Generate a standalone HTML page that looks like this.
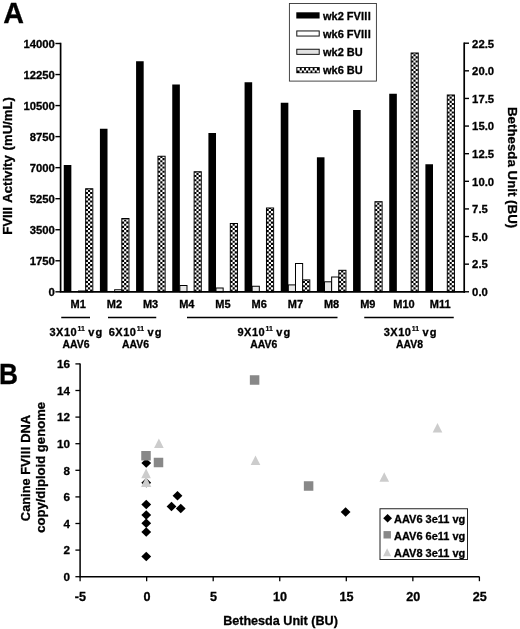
<!DOCTYPE html><html><head><meta charset="utf-8"><style>html,body{margin:0;padding:0;background:#fff}svg{display:block;will-change:transform}text{font-family:"Liberation Sans",sans-serif;font-weight:bold;fill:#000;stroke:#000;stroke-width:0.3px}</style></head><body>
<svg width="520" height="629" viewBox="0 0 520 629">
<defs>
<pattern id="chk" width="2" height="2" patternUnits="userSpaceOnUse"><rect width="2" height="2" fill="#fff"/><rect x="0" y="0" width="1" height="1" fill="#000"/><rect x="1" y="1" width="1" height="1" fill="#000"/></pattern>
</defs>
<rect width="520" height="629" fill="#fff"/>
<text x="3.2" y="23.1" font-size="28.7">A</text>
<rect x="63.75" y="165.00" width="7.6" height="126.80" fill="#000"/>
<rect x="78.50" y="291.00" width="7.15" height="0.80" fill="#fff" stroke="#000" stroke-width="1"/>
<rect x="85.65" y="188.75" width="7.15" height="103.05" fill="#fff"/>
<path d="M86.88 291.58V188.75" stroke="#000" stroke-width="2.15" stroke-dasharray="2.12 2.12" stroke-dashoffset="0" fill="none"/>
<path d="M89.03 291.58V188.75" stroke="#000" stroke-width="2.15" stroke-dasharray="2.12 2.12" stroke-dashoffset="2.12" fill="none"/>
<path d="M91.18 291.58V188.75" stroke="#000" stroke-width="2.15" stroke-dasharray="2.12 2.12" stroke-dashoffset="0" fill="none"/>
<rect x="85.65" y="188.75" width="7.15" height="103.05" fill="none" stroke="#000" stroke-width="1"/>
<rect x="99.91" y="128.75" width="7.6" height="163.05" fill="#000"/>
<rect x="114.66" y="289.75" width="7.15" height="2.05" fill="#fff" stroke="#000" stroke-width="1"/>
<rect x="121.81" y="218.50" width="7.15" height="73.30" fill="#fff"/>
<path d="M123.04 291.58V218.50" stroke="#000" stroke-width="2.15" stroke-dasharray="2.12 2.12" stroke-dashoffset="0" fill="none"/>
<path d="M125.19 291.58V218.50" stroke="#000" stroke-width="2.15" stroke-dasharray="2.12 2.12" stroke-dashoffset="2.12" fill="none"/>
<path d="M127.34 291.58V218.50" stroke="#000" stroke-width="2.15" stroke-dasharray="2.12 2.12" stroke-dashoffset="0" fill="none"/>
<rect x="121.81" y="218.50" width="7.15" height="73.30" fill="none" stroke="#000" stroke-width="1"/>
<rect x="136.08" y="61.25" width="7.6" height="230.55" fill="#000"/>
<rect x="157.98" y="156.25" width="7.15" height="135.55" fill="#fff"/>
<path d="M159.20 291.58V156.25" stroke="#000" stroke-width="2.15" stroke-dasharray="2.12 2.12" stroke-dashoffset="0" fill="none"/>
<path d="M161.35 291.58V156.25" stroke="#000" stroke-width="2.15" stroke-dasharray="2.12 2.12" stroke-dashoffset="2.12" fill="none"/>
<path d="M163.50 291.58V156.25" stroke="#000" stroke-width="2.15" stroke-dasharray="2.12 2.12" stroke-dashoffset="0" fill="none"/>
<rect x="157.98" y="156.25" width="7.15" height="135.55" fill="none" stroke="#000" stroke-width="1"/>
<rect x="172.25" y="84.50" width="7.6" height="207.30" fill="#000"/>
<rect x="179.84" y="285.50" width="7.15" height="6.30" fill="#e8e8e8" stroke="#000" stroke-width="1"/>
<rect x="194.14" y="171.75" width="7.15" height="120.05" fill="#fff"/>
<path d="M195.37 291.58V171.75" stroke="#000" stroke-width="2.15" stroke-dasharray="2.12 2.12" stroke-dashoffset="0" fill="none"/>
<path d="M197.52 291.58V171.75" stroke="#000" stroke-width="2.15" stroke-dasharray="2.12 2.12" stroke-dashoffset="2.12" fill="none"/>
<path d="M199.67 291.58V171.75" stroke="#000" stroke-width="2.15" stroke-dasharray="2.12 2.12" stroke-dashoffset="0" fill="none"/>
<rect x="194.14" y="171.75" width="7.15" height="120.05" fill="none" stroke="#000" stroke-width="1"/>
<rect x="208.41" y="133.00" width="7.6" height="158.80" fill="#000"/>
<rect x="216.01" y="288.00" width="7.15" height="3.80" fill="#e8e8e8" stroke="#000" stroke-width="1"/>
<rect x="230.31" y="223.50" width="7.15" height="68.30" fill="#fff"/>
<path d="M231.53 291.58V223.50" stroke="#000" stroke-width="2.15" stroke-dasharray="2.12 2.12" stroke-dashoffset="0" fill="none"/>
<path d="M233.69 291.58V223.50" stroke="#000" stroke-width="2.15" stroke-dasharray="2.12 2.12" stroke-dashoffset="2.12" fill="none"/>
<path d="M235.84 291.58V223.50" stroke="#000" stroke-width="2.15" stroke-dasharray="2.12 2.12" stroke-dashoffset="0" fill="none"/>
<rect x="230.31" y="223.50" width="7.15" height="68.30" fill="none" stroke="#000" stroke-width="1"/>
<rect x="244.57" y="82.25" width="7.6" height="209.55" fill="#000"/>
<rect x="252.17" y="286.25" width="7.15" height="5.55" fill="#e8e8e8" stroke="#000" stroke-width="1"/>
<rect x="266.47" y="208.00" width="7.15" height="83.80" fill="#fff"/>
<path d="M267.70 291.58V208.00" stroke="#000" stroke-width="2.15" stroke-dasharray="2.12 2.12" stroke-dashoffset="0" fill="none"/>
<path d="M269.85 291.58V208.00" stroke="#000" stroke-width="2.15" stroke-dasharray="2.12 2.12" stroke-dashoffset="2.12" fill="none"/>
<path d="M272.00 291.58V208.00" stroke="#000" stroke-width="2.15" stroke-dasharray="2.12 2.12" stroke-dashoffset="0" fill="none"/>
<rect x="266.47" y="208.00" width="7.15" height="83.80" fill="none" stroke="#000" stroke-width="1"/>
<rect x="280.74" y="102.75" width="7.6" height="189.05" fill="#000"/>
<rect x="288.34" y="284.90" width="7.15" height="6.90" fill="#e8e8e8" stroke="#000" stroke-width="1"/>
<rect x="295.49" y="263.50" width="7.15" height="28.30" fill="#fff" stroke="#000" stroke-width="1"/>
<rect x="302.64" y="279.90" width="7.15" height="11.90" fill="#fff"/>
<path d="M303.86 291.58V279.90" stroke="#000" stroke-width="2.15" stroke-dasharray="2.12 2.12" stroke-dashoffset="0" fill="none"/>
<path d="M306.01 291.58V279.90" stroke="#000" stroke-width="2.15" stroke-dasharray="2.12 2.12" stroke-dashoffset="2.12" fill="none"/>
<path d="M308.16 291.58V279.90" stroke="#000" stroke-width="2.15" stroke-dasharray="2.12 2.12" stroke-dashoffset="0" fill="none"/>
<rect x="302.64" y="279.90" width="7.15" height="11.90" fill="none" stroke="#000" stroke-width="1"/>
<rect x="316.90" y="157.30" width="7.6" height="134.50" fill="#000"/>
<rect x="324.50" y="281.80" width="7.15" height="10.00" fill="#e8e8e8" stroke="#000" stroke-width="1"/>
<rect x="331.65" y="277.00" width="7.15" height="14.80" fill="#fff" stroke="#000" stroke-width="1"/>
<rect x="338.80" y="270.30" width="7.15" height="21.50" fill="#fff"/>
<path d="M340.03 291.58V270.30" stroke="#000" stroke-width="2.15" stroke-dasharray="2.12 2.12" stroke-dashoffset="0" fill="none"/>
<path d="M342.18 291.58V270.30" stroke="#000" stroke-width="2.15" stroke-dasharray="2.12 2.12" stroke-dashoffset="2.12" fill="none"/>
<path d="M344.33 291.58V270.30" stroke="#000" stroke-width="2.15" stroke-dasharray="2.12 2.12" stroke-dashoffset="0" fill="none"/>
<rect x="338.80" y="270.30" width="7.15" height="21.50" fill="none" stroke="#000" stroke-width="1"/>
<rect x="353.07" y="110.00" width="7.6" height="181.80" fill="#000"/>
<rect x="374.97" y="201.70" width="7.15" height="90.10" fill="#fff"/>
<path d="M376.19 291.58V201.70" stroke="#000" stroke-width="2.15" stroke-dasharray="2.12 2.12" stroke-dashoffset="0" fill="none"/>
<path d="M378.34 291.58V201.70" stroke="#000" stroke-width="2.15" stroke-dasharray="2.12 2.12" stroke-dashoffset="2.12" fill="none"/>
<path d="M380.49 291.58V201.70" stroke="#000" stroke-width="2.15" stroke-dasharray="2.12 2.12" stroke-dashoffset="0" fill="none"/>
<rect x="374.97" y="201.70" width="7.15" height="90.10" fill="none" stroke="#000" stroke-width="1"/>
<rect x="389.24" y="93.75" width="7.6" height="198.05" fill="#000"/>
<rect x="411.13" y="53.00" width="7.15" height="238.80" fill="#fff"/>
<path d="M412.36 291.58V53.00" stroke="#000" stroke-width="2.15" stroke-dasharray="2.12 2.12" stroke-dashoffset="0" fill="none"/>
<path d="M414.51 291.58V53.00" stroke="#000" stroke-width="2.15" stroke-dasharray="2.12 2.12" stroke-dashoffset="2.12" fill="none"/>
<path d="M416.66 291.58V53.00" stroke="#000" stroke-width="2.15" stroke-dasharray="2.12 2.12" stroke-dashoffset="0" fill="none"/>
<rect x="411.13" y="53.00" width="7.15" height="238.80" fill="none" stroke="#000" stroke-width="1"/>
<rect x="425.40" y="164.25" width="7.6" height="127.55" fill="#000"/>
<rect x="447.30" y="95.00" width="7.15" height="196.80" fill="#fff"/>
<path d="M448.52 291.58V95.00" stroke="#000" stroke-width="2.15" stroke-dasharray="2.12 2.12" stroke-dashoffset="0" fill="none"/>
<path d="M450.67 291.58V95.00" stroke="#000" stroke-width="2.15" stroke-dasharray="2.12 2.12" stroke-dashoffset="2.12" fill="none"/>
<path d="M452.82 291.58V95.00" stroke="#000" stroke-width="2.15" stroke-dasharray="2.12 2.12" stroke-dashoffset="0" fill="none"/>
<rect x="447.30" y="95.00" width="7.15" height="196.80" fill="none" stroke="#000" stroke-width="1"/>
<path d="M60.6 42.8V291.8M59.75 291.8H465.05" stroke="#000" stroke-width="1.7" fill="none"/>
<path d="M464.2 42.5V292.65000000000003" stroke="#000" stroke-width="1.7" fill="none"/>
<path d="M55.4 43.50H60.6" stroke="#000" stroke-width="1.4"/>
<text x="54.9" y="47.50" font-size="11.3" text-anchor="end">14000</text>
<path d="M55.4 74.54H60.6" stroke="#000" stroke-width="1.4"/>
<text x="54.9" y="78.54" font-size="11.3" text-anchor="end">12250</text>
<path d="M55.4 105.58H60.6" stroke="#000" stroke-width="1.4"/>
<text x="54.9" y="109.58" font-size="11.3" text-anchor="end">10500</text>
<path d="M55.4 136.62H60.6" stroke="#000" stroke-width="1.4"/>
<text x="54.9" y="140.62" font-size="11.3" text-anchor="end">8750</text>
<path d="M55.4 167.66H60.6" stroke="#000" stroke-width="1.4"/>
<text x="54.9" y="171.66" font-size="11.3" text-anchor="end">7000</text>
<path d="M55.4 198.70H60.6" stroke="#000" stroke-width="1.4"/>
<text x="54.9" y="202.70" font-size="11.3" text-anchor="end">5250</text>
<path d="M55.4 229.74H60.6" stroke="#000" stroke-width="1.4"/>
<text x="54.9" y="233.74" font-size="11.3" text-anchor="end">3500</text>
<path d="M55.4 260.78H60.6" stroke="#000" stroke-width="1.4"/>
<text x="54.9" y="264.78" font-size="11.3" text-anchor="end">1750</text>
<path d="M55.4 291.82H60.6" stroke="#000" stroke-width="1.4"/>
<text x="54.9" y="295.82" font-size="11.3" text-anchor="end">0</text>
<path d="M464.2 43.20H469" stroke="#000" stroke-width="1.4"/>
<text x="472.1" y="47.50" font-size="11.3">22.5</text>
<path d="M464.2 70.82H469" stroke="#000" stroke-width="1.4"/>
<text x="472.1" y="75.12" font-size="11.3">20.0</text>
<path d="M464.2 98.44H469" stroke="#000" stroke-width="1.4"/>
<text x="472.1" y="102.74" font-size="11.3">17.5</text>
<path d="M464.2 126.06H469" stroke="#000" stroke-width="1.4"/>
<text x="472.1" y="130.36" font-size="11.3">15.0</text>
<path d="M464.2 153.68H469" stroke="#000" stroke-width="1.4"/>
<text x="472.1" y="157.98" font-size="11.3">12.5</text>
<path d="M464.2 181.30H469" stroke="#000" stroke-width="1.4"/>
<text x="472.1" y="185.60" font-size="11.3">10.0</text>
<path d="M464.2 208.92H469" stroke="#000" stroke-width="1.4"/>
<text x="472.1" y="213.22" font-size="11.3">7.5</text>
<path d="M464.2 236.54H469" stroke="#000" stroke-width="1.4"/>
<text x="472.1" y="240.84" font-size="11.3">5.0</text>
<path d="M464.2 264.16H469" stroke="#000" stroke-width="1.4"/>
<text x="472.1" y="268.46" font-size="11.3">2.5</text>
<path d="M464.2 291.78H469" stroke="#000" stroke-width="1.4"/>
<text x="472.1" y="296.08" font-size="11.3">0.0</text>
<text transform="translate(11.9,166) rotate(-90)" font-size="13.15" word-spacing="1.2" text-anchor="middle">FVIII Activity (mU/mL)</text>
<text transform="translate(507.5,167.6) rotate(90)" font-size="13.3" text-anchor="middle">Bethesda Unit (BU)</text>
<text x="78.20" y="308" font-size="11" text-anchor="middle">M1</text>
<text x="114.40" y="308" font-size="11" text-anchor="middle">M2</text>
<text x="150.60" y="308" font-size="11" text-anchor="middle">M3</text>
<text x="186.80" y="308" font-size="11" text-anchor="middle">M4</text>
<text x="223.00" y="308" font-size="11" text-anchor="middle">M5</text>
<text x="259.20" y="308" font-size="11" text-anchor="middle">M6</text>
<text x="295.40" y="308" font-size="11" text-anchor="middle">M7</text>
<text x="331.60" y="308" font-size="11" text-anchor="middle">M8</text>
<text x="367.80" y="308" font-size="11" text-anchor="middle">M9</text>
<text x="404.00" y="308" font-size="11" text-anchor="middle">M10</text>
<text x="440.20" y="308" font-size="11" text-anchor="middle">M11</text>
<path d="M61.25 317.6H90M108 317.6H156.25M187 317.6H337.5M364.25 317.6H453.75" stroke="#000" stroke-width="1.5"/>
<text x="49.5" y="335.6" font-size="11" textLength="27.2" lengthAdjust="spacing">3X10</text>
<text x="77.5" y="330.5" font-size="7.4" textLength="7.4" lengthAdjust="spacingAndGlyphs" style="stroke-width:0.2px">11</text>
<text x="88.2" y="335.6" font-size="11">v</text><text x="95.6" y="335.6" font-size="11">g</text>
<text x="76" y="348.3" font-size="11" text-anchor="middle" textLength="27" lengthAdjust="spacingAndGlyphs">AAV6</text>
<text x="108.75" y="335.6" font-size="11" textLength="27.2" lengthAdjust="spacing">6X10</text>
<text x="136.75" y="330.5" font-size="7.4" textLength="7.4" lengthAdjust="spacingAndGlyphs" style="stroke-width:0.2px">11</text>
<text x="147.45" y="335.6" font-size="11">v</text><text x="154.85" y="335.6" font-size="11">g</text>
<text x="135.5" y="348.3" font-size="11" text-anchor="middle" textLength="27" lengthAdjust="spacingAndGlyphs">AAV6</text>
<text x="237.5" y="335.6" font-size="11" textLength="27.2" lengthAdjust="spacing">9X10</text>
<text x="265.5" y="330.5" font-size="7.4" textLength="7.4" lengthAdjust="spacingAndGlyphs" style="stroke-width:0.2px">11</text>
<text x="276.2" y="335.6" font-size="11">v</text><text x="283.6" y="335.6" font-size="11">g</text>
<text x="263.75" y="348.3" font-size="11" text-anchor="middle" textLength="27" lengthAdjust="spacingAndGlyphs">AAV6</text>
<text x="383.75" y="335.6" font-size="11" textLength="27.2" lengthAdjust="spacing">3X10</text>
<text x="411.75" y="330.5" font-size="7.4" textLength="7.4" lengthAdjust="spacingAndGlyphs" style="stroke-width:0.2px">11</text>
<text x="422.45" y="335.6" font-size="11">v</text><text x="429.85" y="335.6" font-size="11">g</text>
<text x="409.6" y="348.3" font-size="11" text-anchor="middle" textLength="27" lengthAdjust="spacingAndGlyphs">AAV8</text>
<rect x="289.4" y="3.5" width="87" height="77.6" fill="#fff" stroke="#333" stroke-width="0.9"/>
<rect x="296.3" y="12.3" width="23.3" height="6.2" fill="#000"/>
<rect x="296.8" y="30.95" width="22.4" height="5.1" fill="#fff" stroke="#111" stroke-width="1"/>
<rect x="296.8" y="49.25" width="22.4" height="5.1" fill="#e2e2e2" stroke="#111" stroke-width="1"/>
<rect x="296.3" y="67.1" width="23.4" height="6.1" fill="#000"/>
<path d="M297.40 68.1h2.4v2.4h-2.4zM299.54 70.5h2.4v2.1h-2.4zM301.68 68.1h2.4v2.4h-2.4zM303.82 70.5h2.4v2.1h-2.4zM305.96 68.1h2.4v2.4h-2.4zM308.10 70.5h2.4v2.1h-2.4zM310.24 68.1h2.4v2.4h-2.4zM312.38 70.5h2.4v2.1h-2.4zM314.52 68.1h2.4v2.4h-2.4zM316.66 70.5h2.4v2.1h-2.4z" fill="#fff"/>
<text x="323" y="19.6" font-size="11">wk2 FV<tspan letter-spacing="0.4">III</tspan></text>
<text x="323" y="37.7" font-size="11">wk6 FV<tspan letter-spacing="0.4">III</tspan></text>
<text x="323" y="56.0" font-size="11">wk2 BU</text>
<text x="323" y="74.2" font-size="11">wk6 BU</text>
<text transform="translate(-0.9,383.7) scale(0.92,1)" font-size="28.6">B</text>
<path d="M80.1 363.4V576.7H479.5" stroke="#000" stroke-width="1.5" fill="none"/>
<path d="M75.4 576.70H80.1" stroke="#000" stroke-width="1.3"/>
<text x="69.9" y="580.90" font-size="11.7" text-anchor="end">0</text>
<path d="M75.4 550.10H80.1" stroke="#000" stroke-width="1.3"/>
<text x="69.9" y="554.30" font-size="11.7" text-anchor="end">2</text>
<path d="M75.4 523.50H80.1" stroke="#000" stroke-width="1.3"/>
<text x="69.9" y="527.70" font-size="11.7" text-anchor="end">4</text>
<path d="M75.4 496.90H80.1" stroke="#000" stroke-width="1.3"/>
<text x="69.9" y="501.10" font-size="11.7" text-anchor="end">6</text>
<path d="M75.4 470.30H80.1" stroke="#000" stroke-width="1.3"/>
<text x="69.9" y="474.50" font-size="11.7" text-anchor="end">8</text>
<path d="M75.4 443.70H80.1" stroke="#000" stroke-width="1.3"/>
<text x="69.9" y="447.90" font-size="11.7" text-anchor="end">10</text>
<path d="M75.4 417.10H80.1" stroke="#000" stroke-width="1.3"/>
<text x="69.9" y="421.30" font-size="11.7" text-anchor="end">12</text>
<path d="M75.4 390.50H80.1" stroke="#000" stroke-width="1.3"/>
<text x="69.9" y="394.70" font-size="11.7" text-anchor="end">14</text>
<path d="M75.4 363.90H80.1" stroke="#000" stroke-width="1.3"/>
<text x="69.9" y="368.10" font-size="11.7" text-anchor="end">16</text>
<path d="M80.10 576.7V581.2" stroke="#000" stroke-width="1.3"/>
<text x="80.40" y="601.3" font-size="12.6" text-anchor="middle">-5</text>
<path d="M146.65 576.7V581.2" stroke="#000" stroke-width="1.3"/>
<text x="146.95" y="601.3" font-size="12.6" text-anchor="middle">0</text>
<path d="M213.20 576.7V581.2" stroke="#000" stroke-width="1.3"/>
<text x="213.50" y="601.3" font-size="12.6" text-anchor="middle">5</text>
<path d="M279.75 576.7V581.2" stroke="#000" stroke-width="1.3"/>
<text x="280.05" y="601.3" font-size="12.6" text-anchor="middle">10</text>
<path d="M346.30 576.7V581.2" stroke="#000" stroke-width="1.3"/>
<text x="346.60" y="601.3" font-size="12.6" text-anchor="middle">15</text>
<path d="M412.85 576.7V581.2" stroke="#000" stroke-width="1.3"/>
<text x="413.15" y="601.3" font-size="12.6" text-anchor="middle">20</text>
<path d="M479.40 576.7V581.2" stroke="#000" stroke-width="1.3"/>
<text x="479.70" y="601.3" font-size="12.6" text-anchor="middle">25</text>
<text x="280.5" y="624.8" font-size="12.6" text-anchor="middle">Bethesda Unit (BU)</text>
<text transform="translate(29.6,468) rotate(-90)" font-size="12.85" text-anchor="middle">Canine FV<tspan letter-spacing="0.45">III</tspan> DNA</text>
<text transform="translate(44.5,467.4) rotate(-90)" font-size="13.1" text-anchor="middle">copy/diploid genome</text>
<path d="M146.25 458.40000000000003L151.14999999999998 463.1L146.25 467.8L141.35000000000002 463.1Z" fill="#000"/>
<path d="M146.25 478.0L151.14999999999998 482.7L146.25 487.4L141.35000000000002 482.7Z" fill="#000"/>
<path d="M146.25 499.8L151.14999999999998 504.5L146.25 509.2L141.35000000000002 504.5Z" fill="#000"/>
<path d="M146.25 510.3L151.14999999999998 515L146.25 519.7L141.35000000000002 515Z" fill="#000"/>
<path d="M146.25 518.55L151.14999999999998 523.25L146.25 527.95L141.35000000000002 523.25Z" fill="#000"/>
<path d="M146.25 527.3L151.14999999999998 532L146.25 536.7L141.35000000000002 532Z" fill="#000"/>
<path d="M146.25 551.8L151.14999999999998 556.5L146.25 561.2L141.35000000000002 556.5Z" fill="#000"/>
<path d="M177.5 491.05L182.39999999999998 495.75L177.5 500.45L172.60000000000002 495.75Z" fill="#000"/>
<path d="M171.5 501.8L176.39999999999998 506.5L171.5 511.2L166.60000000000002 506.5Z" fill="#000"/>
<path d="M180.75 503.8L185.64999999999998 508.5L180.75 513.2L175.85000000000002 508.5Z" fill="#000"/>
<path d="M345.6 507.3L350.5 512L345.6 516.7L340.70000000000005 512Z" fill="#000"/>
<rect x="141.25" y="451.0" width="9.5" height="9.5" fill="#888"/>
<rect x="153.75" y="457.75" width="9.5" height="9.5" fill="#888"/>
<rect x="249.85" y="375.25" width="9.5" height="9.5" fill="#888"/>
<rect x="303.85" y="481.25" width="9.5" height="9.5" fill="#888"/>
<path d="M146.2 476.79999999999995L151.29999999999998 487.0L141.1 487.0Z" fill="#ccc"/>
<path d="M158.9 438.5L163.70000000000002 448.1L154.1 448.1Z" fill="#ccc"/>
<path d="M146.1 468.59999999999997L150.9 478.2L141.29999999999998 478.2Z" fill="#ccc"/>
<path d="M255.5 455.45L260.3 465.05L250.7 465.05Z" fill="#ccc"/>
<path d="M437.5 422.95L442.3 432.55L432.7 432.55Z" fill="#ccc"/>
<path d="M384.25 472.2L389.05 481.8L379.45 481.8Z" fill="#ccc"/>
<rect x="380" y="508.75" width="87.5" height="50.75" fill="#fff" stroke="#222" stroke-width="1"/>
<path d="M387.6 514.0999999999999L392.0 518.3L387.6 522.5L383.20000000000005 518.3Z" fill="#000"/>
<rect x="383.5" y="531.0999999999999" width="7.4" height="7.4" fill="#888"/>
<path d="M387.1 548.2L391.1 556.2L383.1 556.2Z" fill="#ccc"/>
<text x="394" y="522.5" font-size="11">AAV6 3e11 vg</text>
<text x="394" y="539.5" font-size="11">AAV6 6e11 vg</text>
<text x="394" y="556.5" font-size="11">AAV8 3e11 vg</text>
</svg></body></html>
